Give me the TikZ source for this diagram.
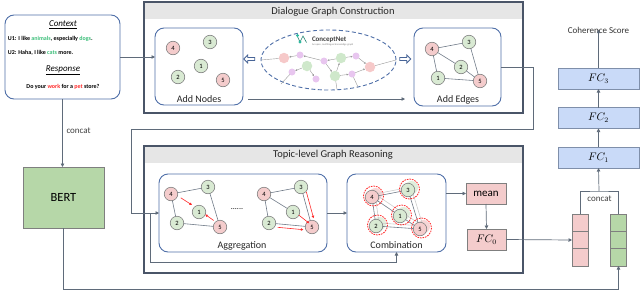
\documentclass[tikz,border=0pt]{standalone}
\usepackage{fontspec}
\setmainfont{Carlito}
\usetikzlibrary{arrows.meta,calc,fit,shapes.geometric,shapes.arrows}
\definecolor{boxblue}{HTML}{4F6FA8}
\definecolor{outerc}{HTML}{4A5568}
\definecolor{headgray}{HTML}{E6E6E6}
\definecolor{linec}{HTML}{5F6B7A}
\definecolor{pinkfill}{HTML}{F4CCCC}
\definecolor{greenfill}{HTML}{D9EAD3}
\definecolor{nodeborder}{HTML}{7F7F7F}
\definecolor{bertgreen}{HTML}{B6D7A8}
\definecolor{fcblue}{HTML}{C9DAF8}
\definecolor{fcborder}{HTML}{7F8FAA}
\definecolor{cnpurple}{HTML}{E8C6EF}
\definecolor{cngreen}{HTML}{CFE8CB}
\definecolor{cnpink}{HTML}{F6C9C9}
\definecolor{txtgreen}{HTML}{3DBE7A}
\definecolor{txtred}{HTML}{FF2A2A}
\definecolor{teal}{HTML}{2FB9A0}
\begin{document}
\begin{tikzpicture}[x=1pt,y=-1pt,
  every node/.style={inner sep=0pt,outer sep=0pt},
  gn/.style={circle,draw=nodeborder,fill=greenfill,minimum size=13.5pt,line width=0.6pt,font=\fontsize{6.5}{7}\selectfont},
  pn/.style={gn,fill=pinkfill},
  subbox/.style={draw=boxblue,rounded corners=9pt,line width=0.9pt,inner sep=0pt},
  outerbox/.style={draw=outerc,line width=1.1pt,inner sep=0pt},
  conn/.style={draw=linec,line width=0.7pt},
  arr/.style={conn,-{Triangle[length=3.5pt,width=3.5pt]}},
  gedge/.style={draw=linec!90,line width=0.6pt},
  redarr/.style={draw=txtred,line width=0.6pt,-{Triangle[length=2.5pt,width=2.5pt]}},
  lbl/.style={font=\fontsize{10}{11}\selectfont,text=black!85},
  title/.style={font=\fontsize{10.5}{12}\selectfont,text=black!85},
  cnp/.style={circle,fill=cnpurple,minimum size=7pt},
  cng/.style={circle,fill=cngreen,minimum size=10.5pt},
  cnk/.style={circle,fill=cnpink,minimum size=10.5pt},
  cnarr/.style={draw=gray!80,line width=0.4pt,-{Triangle[length=1.8pt,width=1.8pt]}},
  cnline/.style={draw=gray!80,line width=0.4pt},
  hollow/.style={single arrow,draw=boxblue!90!black,fill=white,line width=0.8pt,minimum height=11pt,minimum width=8pt,single arrow head extend=1.8pt,inner sep=0.6pt},
  fcbox/.style={draw=fcborder,fill=fcblue,line width=0.6pt,minimum width=81pt,minimum height=21pt,font=\fontsize{10.5}{11}\selectfont},
  pinkbox/.style={draw=nodeborder,fill=pinkfill,line width=0.6pt},
  cellp/.style={draw=nodeborder,fill=pinkfill,line width=0.6pt,minimum width=16pt,minimum height=17.33pt},
  cellg/.style={draw=nodeborder,fill=bertgreen,line width=0.6pt,minimum width=16pt,minimum height=17.33pt},
  reddash/.style={draw=txtred,dashed,dash pattern=on 1.6pt off 1pt,line width=0.8pt}
]
\useasboundingbox (0,0) rectangle (640,303);

% ---------------- Context box ----------------
\node[subbox,fit={(5,15)(120,99)}] (ctx) {};
\node[font=\fontsize{9}{10}\selectfont\itshape] (ctxt) at (63,25) {\underline{Context}};
\node[anchor=west,font=\fontsize{6}{7}\selectfont\bfseries] (u1) at (8,39) {U1: I like \textcolor{txtgreen}{animals}, especially \textcolor{txtgreen}{dogs}.};
\node[anchor=west,font=\fontsize{6}{7}\selectfont\bfseries] (u2) at (8,53) {U2: Haha, I like \textcolor{txtgreen}{cats} more.};
\node[font=\fontsize{9}{10}\selectfont\itshape] (resp) at (63,70) {\underline{Response}};
\node[font=\fontsize{6}{7}\selectfont\bfseries] (rtxt) at (63,87) {Do your \textcolor{txtred}{work} for a \textcolor{txtred}{pet} store?};

% ---------------- BERT ----------------
\node[draw=nodeborder,fill=bertgreen,line width=0.7pt,minimum width=81pt,minimum height=61pt,font=\fontsize{12.5}{13}\selectfont] (bert) at (63.5,197.5) {BERT};

% ---------------- Dialogue Graph Construction ----------------
\fill[headgray] (144.5,2.5) rectangle (522.5,19);
\node[outerbox,fit={(144,2)(523,113)}] (dgc) {};
\node[title] (dgct) at (333,11.5) {Dialogue Graph Construction};

\node[subbox,fit={(155,28)(243,105)}] (addnodes) {};
\node[lbl] (anl) at (199,99) {Add Nodes};
\node[pn] (n4) at (173,48) {4};
\node[gn] (n3) at (210,42) {3};
\node[gn] (n1) at (201,66) {1};
\node[gn] (n2) at (178,77) {2};
\node[pn] (n5) at (223,80) {5};

\node[subbox,fit={(414,28)(501,106)}] (addedges) {};
\node[lbl] (ael) at (458,100) {Add Edges};
\node[pn] (e4) at (432,49) {4};
\node[gn] (e3) at (469,42) {3};
\node[gn] (e2) at (461,67) {2};
\node[gn] (e1) at (438,78) {1};
\node[pn] (e5) at (480,81) {5};
\draw[gedge] (e4) -- (e3);
\draw[gedge] (e4) -- (e2);
\draw[gedge] (e4) -- (e1);
\draw[gedge] (e3) -- (e5);
\draw[gedge] (e2) -- (e5);
\draw[gedge] (e1) -- (e5);

% ConceptNet ellipse
\node[ellipse,draw=boxblue,dashed,dash pattern=on 4pt off 2.5pt,line width=0.9pt,minimum width=135pt,minimum height=60pt] (cnell) at (328.5,60) {};
\draw[teal!70!black,line width=0.6pt] (297,35.5) -- (300,42) -- (303,36) -- (306.5,42.5);
\fill[teal] (297.5,35.5) circle (1.6);
\fill[teal] (300,42) circle (1.6);
\node[anchor=west,font=\fontsize{7}{8}\selectfont\bfseries,text=black!75] (cnname) at (312,39.5) {ConceptNet};
\node[anchor=west,font=\fontsize{2.6}{3}\selectfont,text=black!50] (cnsub) at (312,45) {An open, multilingual knowledge graph};

\node[cnk] (cP1) at (284,58) {};
\node[cnp] (ca) at (300,55) {};
\node[cnp] (cb) at (324,61) {};
\node[cng] (cG1) at (307,66) {};
\node[cng] (cG2) at (341,58) {};
\node[cnp] (cc) at (356,56) {};
\node[cnk] (cP2) at (370,67) {};
\node[cnp] (cd) at (292,72) {};
\node[cnp] (ce) at (316,79) {};
\node[cng] (cG3) at (335,76) {};
\node[cnp] (cf) at (352,74) {};
\draw[cnline] (cnell.west) -- (cP1);
\draw[cnline] (cP2) -- (cnell.east);
\draw[cnarr] (ca) -- (cP1);
\draw[cnarr] (cb) -- (ca);
\draw[cnarr] (cG2) -- (cb);
\draw[cnarr] (cG2) -- (cc);
\draw[cnarr] (cc) -- (cP2);
\draw[cnarr] (cG1) -- (cd);
\draw[cnarr] (cG1) -- (ce);
\draw[cnarr] (cb) -- (cG3);
\draw[cnarr] (cG3) -- (cG2);
\draw[cnarr] (cG3) -- (cf);
\draw[cnarr] (cf) -- (cP2);
\draw[cnline] (cd) -- (281,84);
\draw[cnline] (cG3) -- (337,89.5);
\draw[cnline] (cf) -- (358,87);

\node[hollow,shape border rotate=180] (hl) at (250,59) {};
\node[hollow] (hr) at (404.5,59) {};

\coordinate (an99) at (248,99);
\coordinate (ae99) at (405,99);
\draw[arr] (an99) -- (ae99);

% ---------------- Topic-level Graph Reasoning ----------------
\fill[headgray] (144.5,146.5) rectangle (522.5,163);
\node[outerbox,fit={(144,146)(523,273)}] (tgr) {};
\node[title] (tgrt) at (333,155) {Topic-level Graph Reasoning};

\node[subbox,fit={(159,174)(327,252)}] (aggr) {};
\node[lbl] (agl) at (242,245.5) {Aggregation};
% left graph
\node[pn] (a4) at (171,194) {4};
\node[gn] (a3) at (208,187) {3};
\node[gn] (a1) at (199,212) {1};
\node[gn] (a2) at (177,223) {2};
\node[pn] (a5) at (220,227) {5};
\draw[gedge] (a4) -- (a3);
\draw[gedge] (a4) -- (a2);
\draw[gedge] (a3) -- (a5);
\draw[gedge] (a2) -- (a5);
\draw[redarr] ($(a4)!0.35!(a1)+(0,-2.5)$) -- ($(a4)!0.75!(a1)+(0,-2.5)$);
\draw[redarr] ($(a5)!0.3!(a1)+(0,-2)$) -- ($(a5)!0.7!(a1)+(0,-2)$);
\node[font=\fontsize{8}{9}\selectfont] (dots) at (237,209) {......};
% right graph
\node[pn] (b4) at (264,194) {4};
\node[gn] (b3) at (301,187) {3};
\node[gn] (b1) at (293,212) {1};
\node[gn] (b2) at (269,223) {2};
\node[pn] (b5) at (312,227) {5};
\draw[gedge] (b4) -- (b3);
\draw[gedge] (b4) -- (b2);
\draw[gedge] (b4) -- (b1);
\draw[gedge] (b3) -- (b5);
\draw[gedge] (b2) -- (b5);
\draw[redarr] ($(b1)!0.3!(b5)+(0,-1.5)$) -- ($(b1)!0.85!(b5)+(0,-1.5)$);
\draw[redarr] ($(b3)!0.12!(b5)+(4,0)$) -- ($(b3)!0.78!(b5)+(4,0)$);
\draw[redarr] ($(b2)!0.2!(b5)+(0,3.5)$) -- ($(b2)!0.8!(b5)+(0,3.5)$);

\node[subbox,fit={(347,174)(446,252)}] (comb) {};
\node[lbl] (cml) at (396.5,245.5) {Combination};
% combination graph
\foreach \n/\x/\y/\c in {4/372/197/pinkfill,3/408/190/greenfill,1/400/216/greenfill,2/376/226/greenfill,5/420/229/pinkfill}{
  \fill[\c!80] (\x+3.5,\y-2.5) circle (6.5);
}
\draw[gray!40,line width=0.6pt] (375,194) -- (411,187) (375,194) -- (379,223) (375,194) -- (403,213) (411,187) -- (423,226) (379,223) -- (423,226) (403,213) -- (423,226);
\node[pn] (m4) at (372,197) {4};
\node[gn] (m3) at (408,190) {3};
\node[gn] (m1) at (400,216) {1};
\node[gn] (m2) at (376,226) {2};
\node[pn] (m5) at (420,229) {5};
\draw[gedge] (m4) -- (m3);
\draw[gedge] (m4) -- (m2);
\draw[gedge] (m4) -- (m1);
\draw[gedge] (m3) -- (m5);
\draw[gedge] (m2) -- (m5);
\draw[gedge] (m1) -- (m5);
\foreach \x/\y in {372/197,408/190,400/216,376/226,420/229}{
  \draw[reddash] (\x+1.5,\y-1) circle (10);
}

\node[pinkbox,minimum width=40pt,minimum height=21pt,font=\fontsize{11}{12}\selectfont] (mean) at (486,193.5) {mean};
\node[pinkbox,minimum width=39pt,minimum height=21pt,font=\fontsize{10.5}{11}\selectfont] (fc0) at (486.5,239.5) {$FC_0$};

% ---------------- right column ----------------
\node[cellp] (pv1) at (580,222.67) {};
\node[cellp] (pv2) at (580,240) {};
\node[cellp] (pv3) at (580,257.33) {};
\node[cellg] (gv1) at (618.5,222.67) {};
\node[cellg] (gv2) at (618.5,240) {};
\node[cellg] (gv3) at (618.5,257.33) {};

\node[fcbox] (fc1) at (598.5,157.5) {$FC_1$};
\node[fcbox] (fc2) at (598.5,118) {$FC_2$};
\node[fcbox] (fc3) at (598.5,78.5) {$FC_3$};
\node[font=\fontsize{9}{10}\selectfont,text=black!80] (score) at (598.5,30.5) {Coherence Score};

% ---------------- connectors ----------------
\draw[arr] (ctx.east) -- (ctx.east -| addnodes.west);
\draw[arr] (ctx.south) -- (ctx.south |- bert.north) node[pos=0.47,anchor=west,xshift=4pt,font=\fontsize{9}{10}\selectfont,text=black!75] {concat};

\coordinate (lp1) at (533,67);
\coordinate (lp2) at (533,129);
\coordinate (lp3) at (131,129);
\coordinate (lp4) at (131,213);
\draw[arr] (addedges.east) -- (lp1) -- (lp2) -- (lp3) -- (lp4) -- (aggr.west);
\coordinate (br) at (150,213);
\coordinate (br2) at (150,262);
\draw[arr] (br) -- (br2) -| (comb.south);

\draw[arr] (aggr.east) -- (comb.west);
\draw[arr] (comb.east |- mean.west) -- (mean.west);
\draw[arr] (mean.south) -- (fc0.north);
\draw[arr] (fc0.east) -- (pv2.west);

\coordinate (cc) at (599,191);
\draw[conn] (pv1.north) |- (cc) -| (gv1.north);
\node[font=\fontsize{9}{10}\selectfont,text=black!75] (concat2) at (599.5,199) {concat};
\draw[arr] (cc) -- (fc1.south);
\draw[arr] (fc1.north) -- (fc2.south);
\draw[arr] (fc2.north) -- (fc3.south);
\draw[arr] (fc3.north) -- ([yshift=4pt]score.south);

\coordinate (bc) at (618.5,289);
\draw[arr] (bert.south) |- (bc) -- (gv3.south);
\end{tikzpicture}
\end{document}
